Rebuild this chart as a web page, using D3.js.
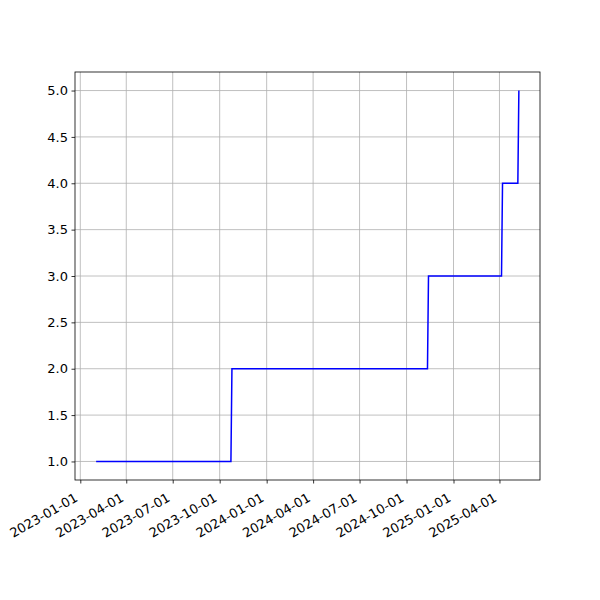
<!DOCTYPE html>
<html><head><meta charset="utf-8">
<script src="https://cdn.jsdelivr.net/npm/d3@7"></script>
<style>body{margin:0;background:#fff}svg{display:block}text{font-family:"DejaVu Sans",sans-serif;font-size:13px;fill:#000}</style>
</head><body><svg id="c" width="600" height="600"></svg>
<script>
const dates = ["2023-02-01","2023-10-23","2023-10-25","2024-11-11","2024-11-13","2025-04-05","2025-04-07","2025-05-07","2025-05-09"];
const values = [1,1,2,2,3,3,4,4,5];
const xTickLabels = ["2023-01-01","2023-04-01","2023-07-01","2023-10-01","2024-01-01","2024-04-01","2024-07-01","2024-10-01","2025-01-01","2025-04-01"];
const yTickLabels = ["1.0","1.5","2.0","2.5","3.0","3.5","4.0","4.5","5.0"];

const L=75,R=540,T=72,B=480;
const parse = d3.utcParse("%Y-%m-%d");
const data = dates.map((d,i)=>({x:parse(d),y:values[i]}));
const x0=+data[0].x, x1=+data[data.length-1].x, span=x1-x0;
const x = d3.scaleUtc().domain([new Date(x0-0.05*span), new Date(x1+0.05*span)]).range([L,R]);
const ymin=d3.min(values), ymax=d3.max(values), ys=ymax-ymin;
const y = d3.scaleLinear().domain([ymin-0.05*ys, ymax+0.05*ys]).range([B,T]);

const svg=d3.select("#c");
const xt = xTickLabels.map(parse);
const yt = yTickLabels.map(Number);
// grid
svg.append("g").selectAll("line").data(xt).join("line")
  .attr("x1",d=>x(d)).attr("x2",d=>x(d)).attr("y1",T).attr("y2",B)
  .attr("stroke","#b0b0b0").attr("stroke-width",0.8);
svg.append("g").selectAll("line").data(yt).join("line")
  .attr("x1",L).attr("x2",R).attr("y1",d=>y(d)).attr("y2",d=>y(d))
  .attr("stroke","#b0b0b0").attr("stroke-width",0.8);
// line
svg.append("path").datum(data)
  .attr("d",d3.line().x(d=>x(d.x)).y(d=>y(d.y)))
  .attr("fill","none").attr("stroke","#0000ff").attr("stroke-width",1.5);
// frame
svg.append("rect").attr("x",L).attr("y",T).attr("width",R-L).attr("height",B-T)
  .attr("fill","none").attr("stroke","#000").attr("stroke-width",0.8);
// x axis
const xa = svg.append("g").attr("transform",`translate(0,${B})`)
  .call(d3.axisBottom(x).tickValues(xt).tickSize(3.5).tickPadding(3.5).tickFormat(d3.utcFormat("%Y-%m-%d")));
xa.select(".domain").remove();
xa.selectAll("line").attr("stroke","#000").attr("stroke-width",0.8);
xa.selectAll("text").attr("font-size",null).attr("font-family",null)
  .attr("text-anchor","end").attr("dy",null).attr("dominant-baseline","hanging")
  .attr("y",0).attr("transform",d=>`translate(-7,12) rotate(-30)`);
// y axis
const ya = svg.append("g").attr("transform",`translate(${L},0)`)
  .call(d3.axisLeft(y).tickValues(yt).tickSize(3.5).tickPadding(3.5).tickFormat(d3.format(".1f")));
ya.select(".domain").remove();
ya.selectAll("line").attr("stroke","#000").attr("stroke-width",0.8);
ya.selectAll("text").attr("font-size",null).attr("font-family",null);
</script></body></html>
